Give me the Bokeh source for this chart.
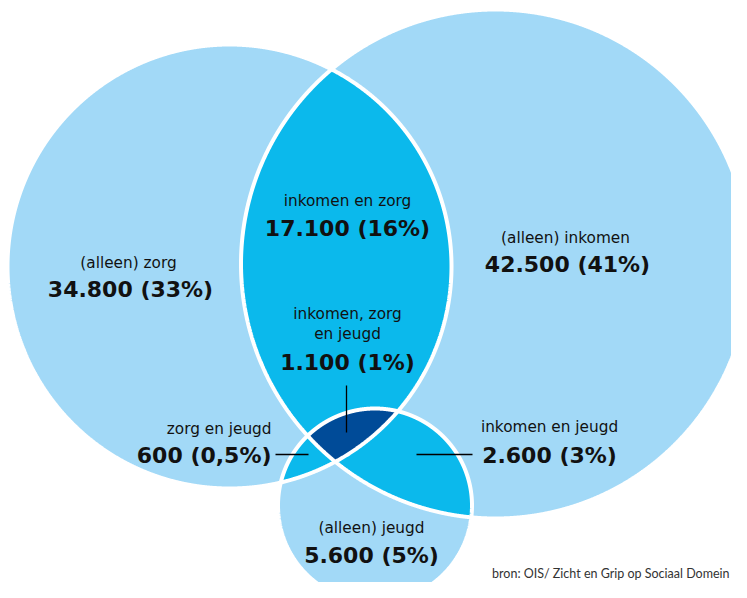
import numpy as np
from bokeh.plotting import figure
from bokeh.models import Range1d
from bokeh.core.properties import value
from bokeh.embed import file_html
from bokeh.resources import INLINE

# ---------------- data ----------------
sets = ["zorg", "inkomen", "jeugd"]
region_labels = ["(alleen) zorg", "(alleen) inkomen", "(alleen) jeugd",
                 "inkomen en zorg", "inkomen, zorg\nen jeugd",
                 "zorg en jeugd", "inkomen en jeugd"]
region_counts = [34800, 42500, 5600, 17100, 1100, 600, 2600]
region_pct = [33, 41, 5, 16, 1, 0.5, 3]
source_note = "bron: OIS/ Zicht en Grip op Sociaal Domein"

# ---------------- layout (pixel space) ----------------
circle_cx = [229, 495, 374.5]
circle_cy = [266, 263.5, 505]
circle_r = [222, 254.5, 97]

label_x = [128, 565, 371, 347, 347, 271, 549]
label_y = [262, 237, 527, 200, 313, 428, 426]
label_align = ["center", "center", "center", "center", "center", "right", "center"]
num_y = [289, 264, 555, 228, 362, 455, 455]
num_x = [130, 567, 371, 347, 347, 271, 549]

LIGHT = "#a2d9f7"
MID = "#0bb9ec"
DARK = "#004b98"
TXT = "#111111"

W, H = 731, 582
p = figure(width=W, height=H, output_backend="svg", toolbar_location=None,
           x_range=Range1d(0, W), y_range=Range1d(H, 0),
           min_border=0, outline_line_color=None, background_fill_color="white",
           border_fill_color="white")
p.axis.visible = False
p.grid.visible = False


def circle_pts(i, n=3000):
    t = np.linspace(0, 2 * np.pi, n, endpoint=False)
    return circle_cx[i] + circle_r[i] * np.cos(t), circle_cy[i] + circle_r[i] * np.sin(t)


def inside(x, y, i):
    return (x - circle_cx[i]) ** 2 + (y - circle_cy[i]) ** 2 <= circle_r[i] ** 2 + 1e-6


def intersection(idx):
    xs, ys = [], []
    for i in idx:
        x, y = circle_pts(i)
        m = np.ones_like(x, dtype=bool)
        for j in idx:
            if j != i:
                m &= inside(x, y, j)
        xs.append(x[m]); ys.append(y[m])
    x = np.concatenate(xs); y = np.concatenate(ys)
    mx, my = x.mean(), y.mean()
    o = np.argsort(np.arctan2(y - my, x - mx))
    return list(x[o]), list(y[o])


# base circles
for i in range(3):
    x, y = circle_pts(i)
    p.patch(list(x), list(y), fill_color=LIGHT, line_color=None)

# pairwise intersections
for pair in [(0, 1), (0, 2), (1, 2)]:
    x, y = intersection(pair)
    p.patch(x, y, fill_color=MID, line_color=None)

# triple intersection
x, y = intersection((0, 1, 2))
p.patch(x, y, fill_color=DARK, line_color=None)

# white outlines
for i in range(3):
    x, y = circle_pts(i)
    p.patch(list(x), list(y), fill_color=None, line_color="white", line_width=4)

# leader lines
p.segment(x0=[346, 275, 416], y0=[385, 454, 454], x1=[346, 308, 472], y1=[432, 454, 454],
          line_color="black", line_width=1.3)


def fmt_count(v):
    return f"{v:,}".replace(",", ".")


def fmt_pct(v):
    return f"{v:g}".replace(".", ",") + "%"


num_texts = [f"{fmt_count(c)} ({fmt_pct(q)})" for c, q in zip(region_counts, region_pct)]

lx, ly, lt, la = [], [], [], []
for x0, y0, t, a in zip(label_x, label_y, region_labels, label_align):
    for k, line in enumerate(t.split("\n")):
        lx.append(x0); ly.append(y0 + k * 20.5); lt.append(line); la.append(a)

p.text(x=lx, y=ly, text=lt, text_align=la, text_baseline="middle",
       text_font=value("DejaVu Sans"), text_font_size="15.3px", text_font_style="normal",
       text_color=TXT)

p.text(x=num_x, y=num_y, text=num_texts, text_align=label_align, text_baseline="middle",
       text_font=value("DejaVu Sans"), text_font_size="22px", text_font_style="bold",
       text_color=TXT)

p.text(x=[729], y=[580], text=[source_note], text_align="right", text_baseline="bottom",
       text_font=value("Lato"), text_font_size="12.5px", text_color="#333333")

open("out.html", "w").write(file_html(p, INLINE))
